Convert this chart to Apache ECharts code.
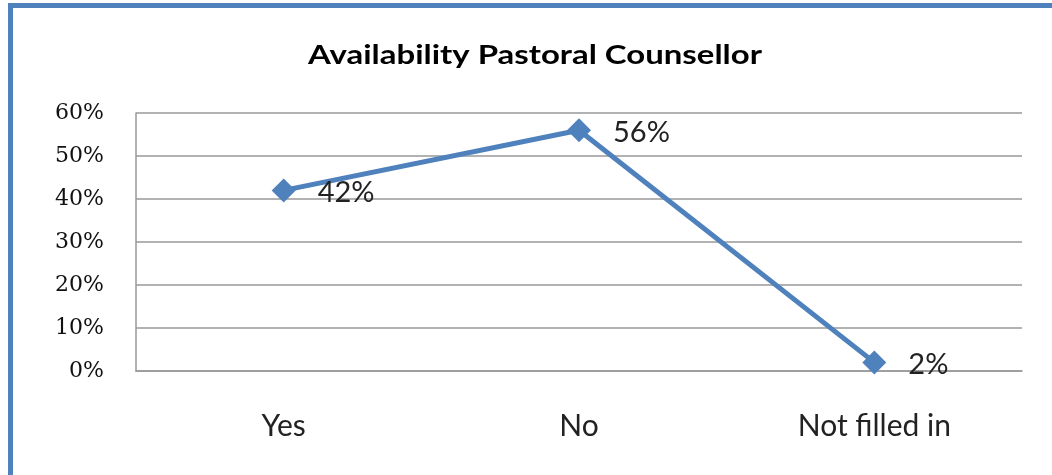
<!DOCTYPE html>
<html><head><meta charset="utf-8">
<script src="https://cdn.jsdelivr.net/npm/echarts@6/dist/echarts.min.js"></script>
<style>html,body{margin:0;padding:0;background:#fff}#c{width:1052px;height:475px}</style>
</head><body><div id="c"></div>
<script>
const categories = ['Yes', 'No', 'Not filled in'];
const values = [42, 56, 2];
const yTicks = [0, 10, 20, 30, 40, 50, 60];
const title = 'Availability Pastoral Counsellor';

const chart = echarts.init(document.getElementById('c'));
chart.setOption({
  animation: false,
  backgroundColor: '#fff',
  graphic: [{
    type: 'rect', shape: {x: 10.5, y: 5.5, width: 1100, height: 520},
    style: {fill: 'none', stroke: '#4F81BD', lineWidth: 5}, silent: true
  }, {
    type: 'text', x: 535, y: 55, scaleX: 1.22, silent: true,
    style: {text: title, fontFamily: 'Lato', fontWeight: 'bold', fontSize: 27, fill: '#000',
      align: 'center', verticalAlign: 'middle'}
  }],
  grid: {left: 136, right: 30, top: 113, bottom: 104},
  xAxis: {
    type: 'category', data: categories, boundaryGap: true,
    axisLine: {lineStyle: {color: '#999', width: 1.5}},
    axisTick: {show: false},
    axisLabel: {margin: 40, fontFamily: 'Lato', fontSize: 30, color: '#222'}
  },
  yAxis: {
    type: 'value', min: yTicks[0], max: yTicks[yTicks.length - 1], interval: 10,
    axisLine: {show: true, lineStyle: {color: '#999', width: 1.5}},
    axisTick: {show: false},
    splitLine: {lineStyle: {color: '#999', width: 1.5}},
    axisLabel: {margin: 32, fontFamily: 'DejaVu Serif', fontSize: 22, color: '#111',
      formatter: v => v + '%'}
  },
  series: [{
    type: 'line', data: values,
    symbol: 'diamond', symbolSize: 24,
    itemStyle: {color: '#4F81BD'},
    lineStyle: {color: '#4F81BD', width: 5},
    label: {show: true, position: 'right', distance: 22, offset: [0, 2],
      fontFamily: 'Lato', fontSize: 29, color: '#222', formatter: p => p.value + '%'}
  }]
});
</script></body></html>
